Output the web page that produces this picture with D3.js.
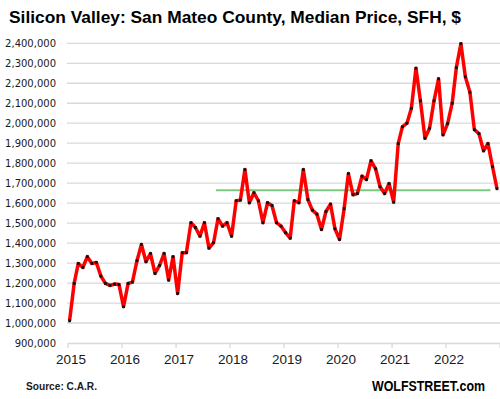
<!DOCTYPE html>
<html>
<head>
<meta charset="utf-8">
<script src="https://cdn.jsdelivr.net/npm/d3@7"></script>
<style>
  body { margin: 0; background: #fff; }
  svg { display: block; }
</style>
</head>
<body>
<div id="chart"></div>
<script>
// median price, SFH, San Mateo County, monthly Jan 2015 .. Dec 2022
var prices = [
  1011000, 1198000, 1298000, 1278000, 1332000, 1298000, 1303000, 1235000, 1198000, 1188000, 1195000, 1193000,
  1082000, 1198000, 1205000, 1312000, 1393000, 1307000, 1348000, 1248000, 1288000, 1348000, 1215000, 1332000,
  1148000, 1352000, 1352000, 1502000, 1478000, 1435000, 1502000, 1375000, 1402000, 1522000, 1485000, 1502000,
  1435000, 1612000, 1615000, 1768000, 1602000, 1652000, 1612000, 1502000, 1602000, 1588000, 1502000, 1485000,
  1452000, 1425000, 1612000, 1602000, 1768000, 1618000, 1565000, 1545000, 1468000, 1558000, 1595000, 1472000,
  1418000, 1572000, 1748000, 1642000, 1648000, 1735000, 1718000, 1812000, 1772000, 1682000, 1648000, 1698000,
  1605000, 1898000, 1982000, 2000000, 2075000, 2275000, 2112000, 1925000, 1975000, 2112000, 2222000, 1942000,
  1998000, 2100000, 2278000, 2398000, 2232000, 2155000, 1968000, 1948000, 1862000, 1898000, 1782000, 1672000
];
var startYear = 2015;
var yearTicks = [2015, 2016, 2017, 2018, 2019, 2020, 2021, 2022];
var yTicks = d3.range(900000, 2400001, 100000);
var refLevel = 1665000;   // green line
var refFrom = new Date(2017, 9, 1);
var refTo = new Date(2022, 10, 1);

var width = 500, height = 399;

var svg = d3.select("#chart").append("svg")
  .attr("width", width)
  .attr("height", height);

var data = prices.map(function(v, i) {
  return { date: new Date(startYear + Math.floor(i / 12), i % 12, 15), value: v };
});

var x = d3.scaleTime()
  .domain([new Date(2015, 0, 1), new Date(2023, 0, 1)])
  .range([67.5, 499.5]);
var y = d3.scaleLinear()
  .domain([900000, 2400000])
  .range([343, 43.3]);

// title
svg.append("text")
  .attr("x", 9).attr("y", 23)
  .attr("textLength", 452).attr("lengthAdjust", "spacingAndGlyphs")
  .style("font-family", "Liberation Sans, Arial, sans-serif")
  .style("font-weight", "bold")
  .style("font-size", "17px")
  .style("fill", "#000")
  .text("Silicon Valley: San Mateo County, Median Price, SFH, $");

// gridlines
svg.append("g").selectAll("line")
  .data(yTicks.slice(1))
  .enter().append("line")
  .attr("x1", 67).attr("x2", 500)
  .attr("y1", function(d) { return y(d); })
  .attr("y2", function(d) { return y(d); })
  .style("stroke", "#d9d9d9")
  .style("stroke-width", 1.3);

// y axis labels
var yAxis = svg.append("g")
  .attr("transform", "translate(67,0)")
  .call(d3.axisLeft(y).tickValues(yTicks).tickFormat(d3.format(",")).tickSize(0).tickPadding(11));
yAxis.select(".domain").remove();
yAxis.selectAll("text")
  .style("font-family", "DejaVu Sans, Verdana, sans-serif")
  .style("font-size", "10px")
  .style("fill", "#1a1a1a");

// x axis
var xAxis = svg.append("g")
  .attr("transform", "translate(0,343)")
  .call(d3.axisBottom(x)
    .tickValues(yearTicks.concat([2023]).map(function(yr) { return new Date(yr, 0, 1); }))
    .tickFormat(function(d) { return d.getFullYear() < 2023 ? d.getFullYear() : ""; })
    .tickSize(5).tickSizeOuter(0).tickPadding(6));
xAxis.select(".domain").style("stroke", "#d9d9d9").style("stroke-width", 1.3);
xAxis.selectAll(".tick line").style("stroke", "#d9d9d9").style("stroke-width", 1.3);
xAxis.selectAll("text")
  .attr("dx", 3)
  .style("font-family", "Liberation Sans, Arial, sans-serif")
  .style("font-size", "13.5px")
  .style("fill", "#1a1a1a");

// green reference line
svg.append("line")
  .attr("x1", x(refFrom)).attr("x2", x(refTo))
  .attr("y1", y(refLevel)).attr("y2", y(refLevel))
  .style("stroke", "#7cc87e")
  .style("stroke-width", 2);

// price line
var line = d3.line()
  .x(function(d) { return x(d.date); })
  .y(function(d) { return y(d.value); });

svg.append("path")
  .datum(data)
  .attr("d", line)
  .style("fill", "none")
  .style("stroke", "#ff0000")
  .style("stroke-width", 3.5)
  .style("stroke-linejoin", "round");

svg.append("g").selectAll("rect")
  .data(data)
  .enter().append("rect")
  .attr("x", function(d) { return x(d.date) - 1.4; })
  .attr("y", function(d) { return y(d.value) - 1.4; })
  .attr("width", 2.8).attr("height", 2.8)
  .style("fill", "#111");

// footer
svg.append("text")
  .attr("x", 26).attr("y", 390)
  .attr("textLength", 71).attr("lengthAdjust", "spacingAndGlyphs")
  .style("font-family", "Liberation Sans, Arial, sans-serif")
  .style("font-weight", "bold")
  .style("font-size", "10.5px")
  .style("fill", "#1a1a1a")
  .text("Source: C.A.R.");

svg.append("text")
  .attr("x", 372).attr("y", 391)
  .attr("textLength", 113).attr("lengthAdjust", "spacingAndGlyphs")
  .style("font-family", "Liberation Sans, Arial, sans-serif")
  .style("font-weight", "bold")
  .style("font-size", "14px")
  .style("fill", "#000")
  .text("WOLFSTREET.com");
</script>
</body>
</html>
